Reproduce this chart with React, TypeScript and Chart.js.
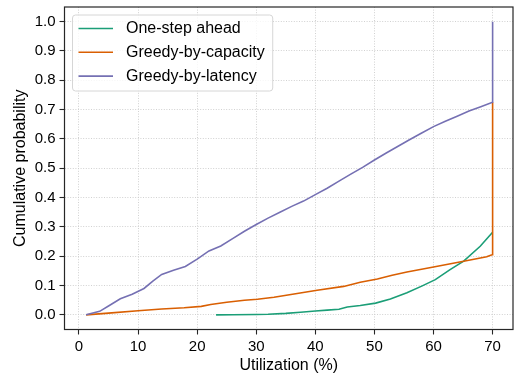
import React, { useEffect, useRef } from "react";
import { Chart, registerables } from "chart.js";

Chart.register(...registerables);

// ---- Data ----
const seriesNames = ["One-step ahead", "Greedy-by-capacity", "Greedy-by-latency"];
const seriesColors = ["#1b9e77", "#d95f02", "#7570b3"];

const oneStepX = [23.2, 26, 30, 32, 35, 37.5, 40, 42, 44, 45.4, 47.6, 50.2, 52.7, 55.5, 58, 60.3, 62.8, 65.1, 67.9, 70.0];
const oneStepY = [0, 0.0005, 0.001, 0.002, 0.005, 0.009, 0.013, 0.016, 0.019, 0.027, 0.032, 0.04, 0.054, 0.075, 0.098, 0.12, 0.154, 0.183, 0.234, 0.282];

const capacityX = [1.2, 5, 10, 14, 17.8, 20.7, 22.3, 25, 28, 30.2, 33, 36.4, 40.3, 44.8, 47.6, 50.5, 53, 55.5, 60, 65.1, 69.0, 69.9, 70.0];
const capacityY = [0, 0.006, 0.014, 0.02, 0.024, 0.029, 0.035, 0.043, 0.05, 0.053, 0.06, 0.071, 0.084, 0.097, 0.111, 0.122, 0.135, 0.146, 0.163, 0.183, 0.198, 0.205, 0.725];

const latencyX = [1.2, 3.5, 5, 7, 9, 11, 12.5, 14, 16, 18, 20, 22, 24, 26, 28, 30, 32, 34, 36, 38, 40, 42, 44, 46, 48, 50, 52, 54, 56, 58, 60, 62, 64, 66, 68, 70, 70];
const latencyY = [0, 0.012, 0.03, 0.055, 0.07, 0.09, 0.115, 0.138, 0.152, 0.165, 0.19, 0.218, 0.235, 0.26, 0.285, 0.308, 0.33, 0.35, 0.37, 0.388, 0.41, 0.432, 0.456, 0.48, 0.503, 0.528, 0.552, 0.575, 0.598, 0.62, 0.642, 0.66, 0.677, 0.695, 0.71, 0.725, 1.0];

const xTicks = [0, 10, 20, 30, 40, 50, 60, 70];
const yTicks = [0, 0.1, 0.2, 0.3, 0.4, 0.5, 0.6, 0.7, 0.8, 0.9, 1.0];

const FONT = "'Liberation Sans', Arial, Helvetica, sans-serif";

function toPoints(xs: number[], ys: number[]) {
  return xs.map((x, i) => ({ x, y: ys[i] }));
}

const framePlugin = {
  id: "frameAndLegend",
  afterDraw(chart: any) {
    const { ctx, chartArea } = chart;
    ctx.save();
    // frame
    ctx.strokeStyle = "#262626";
    ctx.lineWidth = 1.2;
    ctx.strokeRect(chartArea.left, chartArea.top, chartArea.right - chartArea.left, chartArea.bottom - chartArea.top);

    // legend
    ctx.font = `16px ${FONT}`;
    const widths = seriesNames.map((n) => ctx.measureText(n).width);
    const maxW = Math.max(...widths);
    const bx = chartArea.left + 8;
    const by = chartArea.top + 8;
    const rowH = 23.8;
    const bw = 53.5 + maxW + 8;
    const bh = 76;
    const r = 3;
    ctx.beginPath();
    ctx.moveTo(bx + r, by);
    ctx.lineTo(bx + bw - r, by);
    ctx.quadraticCurveTo(bx + bw, by, bx + bw, by + r);
    ctx.lineTo(bx + bw, by + bh - r);
    ctx.quadraticCurveTo(bx + bw, by + bh, bx + bw - r, by + bh);
    ctx.lineTo(bx + r, by + bh);
    ctx.quadraticCurveTo(bx, by + bh, bx, by + bh - r);
    ctx.lineTo(bx, by + r);
    ctx.quadraticCurveTo(bx, by, bx + r, by);
    ctx.closePath();
    ctx.fillStyle = "rgba(255,255,255,0.8)";
    ctx.fill();
    ctx.strokeStyle = "#d6d6d6";
    ctx.lineWidth = 1;
    ctx.stroke();

    seriesNames.forEach((name, i) => {
      const y = by + 13.5 + i * rowH;
      ctx.strokeStyle = seriesColors[i];
      ctx.lineWidth = 1.6;
      ctx.beginPath();
      ctx.moveTo(bx + 6, y);
      ctx.lineTo(bx + 40.5, y);
      ctx.stroke();
      ctx.fillStyle = "#000";
      ctx.textBaseline = "middle";
      ctx.textAlign = "left";
      ctx.fillText(name, bx + 53.5, y + 0.5);
    });
    ctx.restore();
  },
};

export default function App() {
  const canvasRef = useRef<HTMLCanvasElement | null>(null);

  useEffect(() => {
    if (!canvasRef.current) return;
    Chart.defaults.font.family = FONT;
    Chart.defaults.color = "#000";
    const datasetsRaw = [
      { xs: oneStepX, ys: oneStepY, order: 2 },
      { xs: capacityX, ys: capacityY, order: 1 },
      { xs: latencyX, ys: latencyY, order: 0 },
    ];
    const gridOpts = {
      color: "#cccccc",
      lineWidth: 0.9,
      drawTicks: true,
      tickLength: 5,
      tickColor: "#262626",
      tickWidth: 1.1,
      tickBorderDash: [],
    };
    const chart = new Chart(canvasRef.current, {
      type: "scatter",
      data: {
        datasets: datasetsRaw.map((d, i) => ({
          label: seriesNames[i],
          data: toPoints(d.xs, d.ys),
          showLine: true,
          borderColor: seriesColors[i],
          backgroundColor: seriesColors[i],
          borderWidth: 1.6,
          pointRadius: 0,
          pointHoverRadius: 0,
          tension: 0,
          fill: false,
          order: d.order,
        })),
      },
      options: {
        animation: false,
        responsive: false,
        devicePixelRatio: 1,
        layout: { padding: { left: 0, right: 1, top: 7, bottom: 0 } },
        plugins: {
          legend: { display: false },
          tooltip: { enabled: false },
        },
        scales: {
          x: {
            type: "linear",
            min: -2.45,
            max: 73.45,
            afterBuildTicks: (scale: any) => {
              scale.ticks = xTicks.map((v) => ({ value: v }));
            },
            afterFit: (scale: any) => {
              scale.height = 45.5;
              scale.paddingLeft = 0;
              scale.paddingRight = 0;
            },
            ticks: {
              font: { size: 15 },
              color: "#000",
              padding: 3,
              maxRotation: 0,
              autoSkip: false,
              callback: (v: any) => String(v),
            },
            grid: gridOpts,
            border: { display: false, dash: [1, 1.6] },
            title: {
              display: true,
              text: "Utilization (%)",
              font: { size: 16 },
              color: "#000",
              padding: { top: 0, bottom: 0 },
            },
          },
          y: {
            type: "linear",
            min: -0.05,
            max: 1.05,
            afterBuildTicks: (scale: any) => {
              scale.ticks = yTicks.map((v) => ({ value: v }));
            },
            afterFit: (scale: any) => {
              scale.width = 64.5;
              scale.paddingTop = 0;
              scale.paddingBottom = 0;
            },
            ticks: {
              font: { size: 15 },
              color: "#000",
              padding: 4,
              autoSkip: false,
              callback: (v: any) => Number(v).toFixed(1),
            },
            grid: gridOpts,
            border: { display: false, dash: [1, 1.6] },
            title: {
              display: true,
              text: "Cumulative probability",
              font: { size: 16 },
              color: "#000",
              padding: { top: 11, bottom: 0 },
            },
          },
        },
      },
      plugins: [framePlugin],
    });
    return () => chart.destroy();
  }, []);

  return (
    <div style={{ position: "fixed", left: 0, top: 0, width: 514, height: 375, background: "#fff" }}>
      <canvas ref={canvasRef} width={514} height={375} style={{ display: "block", width: 514, height: 375 }} />
    </div>
  );
}
